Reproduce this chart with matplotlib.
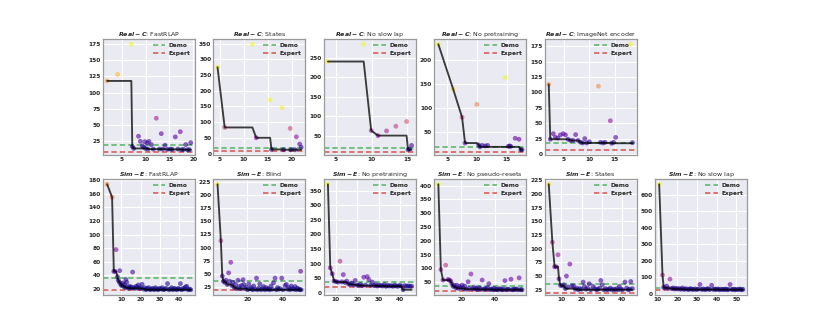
import matplotlib
matplotlib.use("Agg")
import matplotlib.pyplot as plt
import numpy as np
import seaborn as sns

sns.set_style("darkgrid")
plt.rcParams['font.family'] = ['DejaVu Sans']

# ---------------- data ----------------
real_titles = ["FastRLAP", "States", "No slow lap", "No pretraining", "ImageNet encoder"]
sim_titles = ["FastRLAP", "Blind", "No pretraining", "No pseudo-resets", "States", "No slow lap"]

# Real - C
real_fastrlap_x = [1.9, 4.1, 7.0, 7.2, 7.5, 8.5, 8.9, 9.3, 9.6, 9.85, 10.0, 10.35, 10.5, 10.7, 11.2,
                   11.6, 12.25, 12.9, 13.3, 13.6, 14.1, 14.6, 15.2, 15.6, 16.25, 16.8, 17.3, 17.6,
                   18.0, 18.45, 18.8, 19.2, 19.5]
real_fastrlap_y = [118, 128, 175, 16, 13, 32, 24, 17, 15, 23.5, 13, 21.5, 12, 24, 19,
                   12, 60, 12, 36, 12, 18, 11.5, 12, 11.5, 31, 12, 39, 11,
                   11.5, 19, 11, 11, 22]

real_states_x = [4.5, 6.0, 11.8, 12.6, 15.5, 15.8, 18.0, 18.3, 19.7, 19.85, 20.7, 21.0, 21.7, 22.0]
real_states_y = [275, 83, 348, 50, 171, 13, 146, 12, 80, 12, 12, 53, 30, 20]

real_noslow_x = [3.9, 8.9, 9.95, 10.9, 12.1, 13.4, 14.9, 15.1, 15.3, 15.6]
real_noslow_y = [240, 284, 64, 51, 63, 75, 87, 15, 17, 26]

real_nopre_x = [3.5, 6.0, 7.5, 8.0, 10.0, 10.3, 10.5, 10.9, 11.4, 11.8, 14.75, 15.3, 15.5, 15.7,
                16.45, 17.1, 17.4, 17.6]
real_nopre_y = [233, 139, 80, 26, 107, 22, 18, 21, 20, 21, 163, 19, 20, 19,
                36, 34, 12, 12]

real_imagenet_x = [2.0, 2.3, 2.9, 3.3, 3.8, 4.3, 4.85, 5.3, 5.8, 6.3, 6.8, 7.3, 7.8, 8.3, 8.7,
                   9.1, 9.5, 10.0, 11.8, 12.2, 12.7, 13.1, 14.15, 14.4, 14.8, 15.2, 18.1, 18.5]
real_imagenet_y = [113, 24, 33, 27, 26, 31, 33, 31, 24, 22, 22, 31.5, 22, 19, 18,
                   25, 18, 20, 110, 19, 18, 19, 54, 17.5, 19, 27, 178, 18.5]

real_demo = [18.5, 19, 19, 18.5, 18]
real_expert = [7.5, 7, 8.5, 7.5, 7]

# Sim - E
sim_fastrlap_x = [2.5, 5.1, 6.0, 6.6, 7.2, 7.9, 8.3, 8.9, 9.1, 9.6,
                  10.1, 10.6, 11.1, 11.6, 12.0, 12.3, 12.7, 13.2, 13.7, 14.2,
                  14.8, 15.3, 15.8, 16.4, 17.0, 17.6, 18.2, 18.8, 19.4, 20.0,
                  20.7, 21.4, 22.1, 22.8, 23.5, 24.2, 24.9, 25.6, 26.3, 27.0,
                  27.7, 28.4, 29.1, 29.8, 30.5, 31.2, 31.9, 32.6, 33.3, 34.0,
                  34.7, 35.4, 36.1, 36.8, 37.5, 38.2, 38.9, 39.6, 40.3, 40.7,
                  41.4, 42.1, 42.8, 43.3, 44.0, 44.7, 45.4, 46.1]
sim_fastrlap_y = [174, 155, 46, 46, 78, 38, 33, 30, 47, 27,
                  25, 29, 24, 27, 22, 34, 30, 23, 21, 24,
                  22, 23, 45, 22, 21, 24, 23, 26, 21, 22,
                  27, 20, 22, 19, 21, 22, 19, 20, 21, 19,
                  22, 20, 19, 21, 20, 22, 19, 20, 21, 28,
                  19, 20, 22, 19, 21, 20, 19, 21, 20, 28,
                  19, 21, 20, 23, 24, 19, 20, 19]

sim_blind_x = [3.1, 5.0, 5.8, 6.5, 7.2, 7.9, 8.6, 9.4, 10.0, 10.6,
               11.2, 11.9, 12.6, 13.3, 14.0, 14.7, 15.4, 16.1, 16.8, 17.6,
               18.0, 18.7, 19.4, 20.1, 20.8, 21.5, 22.2, 22.9, 23.6, 24.3,
               25.2, 25.8, 26.5, 27.1, 27.8, 28.5, 29.2, 29.9, 30.6, 31.3,
               32.0, 32.7, 33.4, 34.1, 34.8, 35.7, 36.4, 37.1, 37.8, 38.5,
               39.5, 40.2, 41.4, 42.1, 42.8, 43.5, 44.2, 44.9, 45.6, 46.3,
               47.0, 47.7, 48.4, 49.1, 49.8, 50.2, 50.5]
sim_blind_y = [220, 113, 46, 36, 34, 38, 30, 52, 36, 72,
               28, 34, 24, 30, 22, 38, 26, 22, 28, 39,
               30, 22, 25, 20, 31, 22, 24, 20, 27, 21,
               42, 20, 23, 31, 20, 22, 26, 20, 24, 21,
               22, 20, 27, 21, 33, 42, 20, 24, 21, 22,
               42, 20, 28, 30, 21, 24, 20, 27, 22, 21,
               26, 20, 23, 21, 20, 55, 20]

sim_nopre_x = [6.3, 7.4, 8.3, 9.2, 10.1, 11.0, 12.0, 12.8, 13.5, 14.3,
               15.1, 15.9, 16.7, 17.5, 18.3, 19.1, 19.9, 20.7, 21.5, 22.3,
               23.1, 23.9, 24.7, 25.5, 26.3, 27.1, 27.9, 28.7, 29.5, 30.3,
               31.1, 31.9, 32.7, 33.5, 34.3, 35.1, 35.9, 36.7, 37.5, 38.3,
               39.1, 39.9, 40.7, 41.5, 42.3, 43.1, 43.9, 44.7, 45.5]
sim_nopre_y = [372, 85, 65, 40, 38, 36, 108, 37, 62, 35,
               40, 30, 28, 33, 27, 42, 26, 25, 28, 24,
               53, 26, 55, 45, 25, 36, 24, 27, 23, 26,
               24, 23, 28, 22, 25, 23, 24, 22, 26, 23,
               22, 25, 23, 10, 24, 22, 23, 22, 22]

sim_nopseudo_x = [6.2, 7.7, 9.0, 10.6, 12.0, 12.8, 13.5, 14.3, 15.1, 15.9,
                  16.7, 17.1, 18.0, 18.8, 19.6, 20.4, 21.2, 22.0, 22.8, 24.0,
                  24.6, 25.7, 26.6, 27.4, 28.2, 29.0, 29.8, 30.6, 31.5, 32.4,
                  33.2, 34.0, 34.8, 35.6, 36.4, 37.2, 38.0, 38.8, 39.6, 40.4,
                  41.2, 42.0, 42.8, 43.6, 44.4, 45.2, 46.0, 46.8, 47.6, 48.4,
                  49.6, 50.4, 51.2, 52.0, 52.8, 53.6, 54.5, 55.4, 56.2]
sim_nopseudo_y = [405, 96, 58, 112, 60, 58, 55, 45, 35, 38,
                  30, 40, 28, 35, 30, 40, 27, 36, 25, 52,
                  28, 80, 26, 32, 25, 28, 24, 30, 26, 58,
                  24, 27, 25, 30, 45, 24, 26, 23, 28, 24,
                  25, 23, 27, 24, 23, 26, 56, 23, 25, 24,
                  61, 23, 25, 24, 26, 23, 66, 24, 23]

sim_states_x = [3.7, 5.5, 6.6, 7.4, 8.3, 8.8, 9.5, 10.5, 11.3, 12.0,
                12.5, 13.2, 14.2, 15.2, 16.0, 16.8, 17.6, 18.4, 19.2, 20.0,
                20.8, 21.4, 22.2, 23.0, 23.8, 24.6, 25.8, 26.6, 27.4, 28.2,
                29.0, 29.6, 30.3, 31.1, 31.9, 32.7, 33.5, 34.3, 35.1, 35.9,
                36.7, 37.5, 38.3, 38.8, 39.6, 40.4, 41.6, 42.4, 43.2, 44.0,
                44.5, 45.3]
sim_states_y = [218, 112, 67, 67, 89, 45, 33, 32, 34, 27,
                50, 30, 72, 32, 32, 26, 28, 25, 27, 26,
                39, 31, 26, 28, 36, 25, 31, 27, 25, 26,
                28, 42, 34, 25, 27, 25, 26, 28, 25, 26,
                25, 27, 25, 31, 26, 25, 39, 28, 25, 26,
                40, 27]

sim_noslow_x = [10.7, 12.4, 13.0, 13.6, 14.5, 15.3, 16.2, 17.0, 17.8, 18.6,
                19.4, 20.2, 21.0, 21.8, 22.6, 23.4, 24.2, 25.0, 25.8, 26.6,
                27.4, 28.2, 29.0, 29.8, 30.6, 31.5, 32.4, 33.2, 34.0, 34.8,
                35.6, 36.4, 37.5, 38.2, 39.0, 39.8, 40.6, 41.4, 42.2, 43.0,
                43.8, 44.6, 45.4, 46.2, 46.9, 47.8, 48.6, 49.4, 50.2, 51.0,
                51.8, 52.6, 53.4]
sim_noslow_y = [665, 112, 38, 34, 45, 32, 88, 30, 34, 28,
                32, 27, 30, 26, 34, 25, 29, 27, 24, 30,
                26, 25, 28, 24, 27, 55, 25, 28, 24, 26,
                30, 24, 50, 25, 27, 24, 28, 23, 26, 25,
                24, 27, 23, 25, 55, 24, 26, 23, 25, 24,
                27, 23, 24]

sim_demo = [36, 36, 36, 37, 36, 36]
sim_expert = [19, 19, 19, 20, 19, 19]

real_x = [real_fastrlap_x, real_states_x, real_noslow_x, real_nopre_x, real_imagenet_x]
real_y = [real_fastrlap_y, real_states_y, real_noslow_y, real_nopre_y, real_imagenet_y]
sim_x = [sim_fastrlap_x, sim_blind_x, sim_nopre_x, sim_nopseudo_x, sim_states_x, sim_noslow_x]
sim_y = [sim_fastrlap_y, sim_blind_y, sim_nopre_y, sim_nopseudo_y, sim_states_y, sim_noslow_y]

# ---------------- plotting ----------------
FS = 4.2
fig, axes = plt.subplots(2, 6, figsize=(8.3, 3.32), dpi=100)
fig.subplots_adjust(left=0.124, right=0.900, top=0.8825, bottom=0.1114, wspace=0.2, hspace=0.207)

GREEN = '#55b265'
RED = '#d9534f'


def draw(ax, xs, ys, demo, expert, prefix, name, vmin, vmax):
    xs = np.asarray(xs, float)
    ys = np.asarray(ys, float)
    ax.scatter(xs, ys, c=ys, cmap='plasma', vmin=vmin, vmax=vmax, s=12, alpha=0.6,
               linewidths=0, zorder=3)
    ax.plot(xs, np.minimum.accumulate(ys), color='black', alpha=0.75, lw=1.35, zorder=4)
    ax.axhline(demo, color=GREEN, ls=(0, (3.5, 2)), lw=1.1, label='Demo', zorder=2)
    ax.axhline(expert, color=RED, ls=(0, (3.5, 2)), lw=1.1, label='Expert', zorder=2)
    ax.set_title(r"$\mathbfit{" + prefix + "}$: " + name, fontsize=FS + 0.3, pad=2.5)
    ax.tick_params(axis='both', labelsize=FS, pad=1.5, length=0)
    for sp in ax.spines.values():
        sp.set_visible(True)
        sp.set_color('#9a9a9a')
        sp.set_linewidth(0.9)
    ax.grid(color='white', lw=0.8)
    leg = ax.legend(loc='upper right', fontsize=FS, frameon=False, handlelength=2.2,
                    borderaxespad=0.3, labelspacing=0.4, handletextpad=0.6)
    for t in leg.get_texts():
        t.set_fontweight('bold')


for i in range(5):
    draw(axes[0, i], real_x[i], real_y[i], real_demo[i], real_expert[i], "Real-C",
         real_titles[i], 10, 150)
axes[0, 5].axis('off')
for i in range(6):
    draw(axes[1, i], sim_x[i], sim_y[i], sim_demo[i], sim_expert[i], "Sim-E",
         sim_titles[i], 20, 230)

for ax in fig.axes:
    for lab in ax.get_xticklabels() + ax.get_yticklabels():
        lab.set_fontweight('bold')

fig.savefig("out.png", dpi=100)
